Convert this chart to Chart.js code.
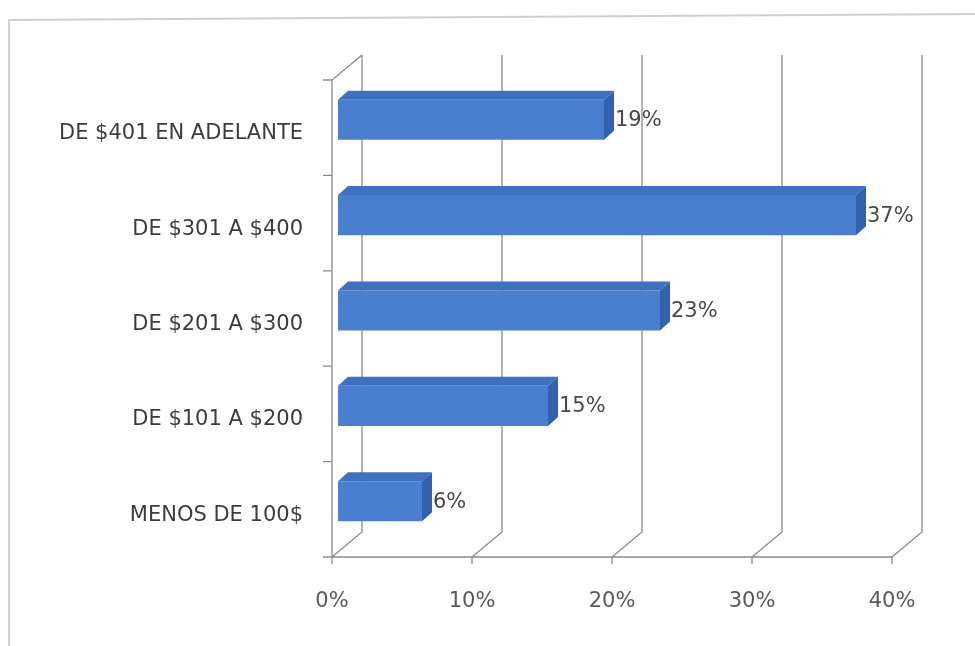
<!DOCTYPE html>
<html>
<head>
<meta charset="utf-8">
<script src="https://cdn.jsdelivr.net/npm/chart.js@4.4.0/dist/chart.umd.min.js"></script>
<style>
  html, body { margin: 0; padding: 0; background: #fff; }
  #wrap { width: 975px; height: 646px; }
</style>
</head>
<body>
<div id="wrap"><canvas id="myChart" width="975" height="646"></canvas></div>
<script>
// rangos de gasto y porcentaje de respuestas
const categories = ['DE $401 EN ADELANTE', 'DE $301 A $400', 'DE $201 A $300', 'DE $101 A $200', 'MENOS DE 100$'];
const shares = [19, 37, 23, 15, 6];
const xTickValues = [0, 10, 20, 30, 40];

const FONT = '"DejaVu Sans", sans-serif';
const GRID = '#8a8a8a';

// offsets for the fake 3D look (front plane -> bar face, wall depth, bar depth)
const frontDX = -6, frontDY = 8;
const wallDX = 30, wallDY = -25;
const barDX = 10, barDY = -9;

const walls3d = {
  id: 'walls3d',
  beforeDraw(chart) {
    const c = chart.ctx;
    c.save();
    c.fillStyle = '#fff';
    c.fillRect(0, 0, chart.width, chart.height);
    c.strokeStyle = '#cfcfcf';
    c.lineWidth = 2;
    c.beginPath();
    c.moveTo(9, chart.height + 2);
    c.lineTo(9, 20);
    c.lineTo(chart.width + 2, 14);
    c.stroke();
    c.restore();
  },
  beforeDatasetsDraw(chart) {
    const c = chart.ctx, xs = chart.scales.x, ys = chart.scales.y, a = chart.chartArea;
    const floorY = a.bottom + frontDY;
    const topY = a.top + frontDY;
    const x0 = xs.getPixelForValue(0) + frontDX;
    const xEnd = xs.getPixelForValue(40) + frontDX;
    c.save();
    c.strokeStyle = GRID;
    c.lineWidth = 1.3;
    c.beginPath();
    // floor front edge
    c.moveTo(x0 - 9, floorY);
    c.lineTo(xEnd, floorY);
    xTickValues.forEach(v => {
      const xf = xs.getPixelForValue(v) + frontDX;
      c.moveTo(xf, floorY + 7);
      c.lineTo(xf, floorY);
      c.lineTo(xf + wallDX, floorY + wallDY);
      c.lineTo(xf + wallDX, topY + wallDY);
    });
    // side wall
    c.moveTo(x0, floorY);
    c.lineTo(x0, topY);
    c.lineTo(x0 + wallDX, topY + wallDY);
    const edges = [a.top];
    for (let i = 1; i < categories.length; i++) {
      edges.push((ys.getPixelForValue(i - 1) + ys.getPixelForValue(i)) / 2);
    }
    edges.forEach(y => {
      c.moveTo(x0 - 9, y + frontDY);
      c.lineTo(x0, y + frontDY);
    });
    c.stroke();
    c.restore();
  },
  afterDatasetsDraw(chart) {
    const c = chart.ctx;
    const meta = chart.getDatasetMeta(0);
    c.save();
    meta.data.forEach((bar, i) => {
      const h = bar.height, t = bar.y - h / 2, b = bar.y + h / 2;
      // top face
      c.fillStyle = '#3f71c0';
      c.beginPath();
      c.moveTo(bar.base, t);
      c.lineTo(bar.base + barDX, t + barDY);
      c.lineTo(bar.x + barDX, t + barDY);
      c.lineTo(bar.x, t);
      c.closePath();
      c.fill();
      // end face
      c.fillStyle = '#3261ad';
      c.beginPath();
      c.moveTo(bar.x, t);
      c.lineTo(bar.x + barDX, t + barDY);
      c.lineTo(bar.x + barDX, b + barDY);
      c.lineTo(bar.x, b);
      c.closePath();
      c.fill();
      // value label
      c.fillStyle = '#484848';
      c.font = '21px ' + FONT;
      c.textBaseline = 'middle';
      c.textAlign = 'left';
      c.fillText(shares[i] + '%', bar.x + barDX + 1, bar.y + 1);
    });
    c.restore();
  }
};

const ctx = document.getElementById('myChart').getContext('2d');
const myChart = new Chart(ctx, {
  type: 'bar',
  data: {
    labels: categories,
    datasets: [{
      data: shares,
      backgroundColor: '#4a7fcf',
      borderWidth: 0,
      categoryPercentage: 1,
      barPercentage: 0.42
    }]
  },
  options: {
    indexAxis: 'y',
    responsive: false,
    animation: false,
    layout: { padding: { top: 72, right: 77, left: 0, bottom: 0 } },
    plugins: { legend: { display: false }, tooltip: { enabled: false } },
    scales: {
      x: {
        min: 0,
        max: 40,
        afterBuildTicks(scale) { scale.ticks = xTickValues.map(v => ({ value: v })); },
        afterFit(scale) { scale.height = 97; },
        grid: { display: false, drawTicks: false },
        border: { display: false },
        ticks: {
          padding: 40,
          labelOffset: frontDX,
          color: '#595959',
          font: { family: FONT, size: 21 },
          callback: v => v + '%'
        }
      },
      y: {
        afterFit(scale) { scale.width = 338; },
        grid: { display: false, drawTicks: false },
        border: { display: false },
        ticks: {
          padding: 35,
          labelOffset: 14,
          color: '#3c3c3c',
          font: { family: FONT, size: 21 }
        }
      }
    }
  },
  plugins: [walls3d]
});
</script>
</body>
</html>
